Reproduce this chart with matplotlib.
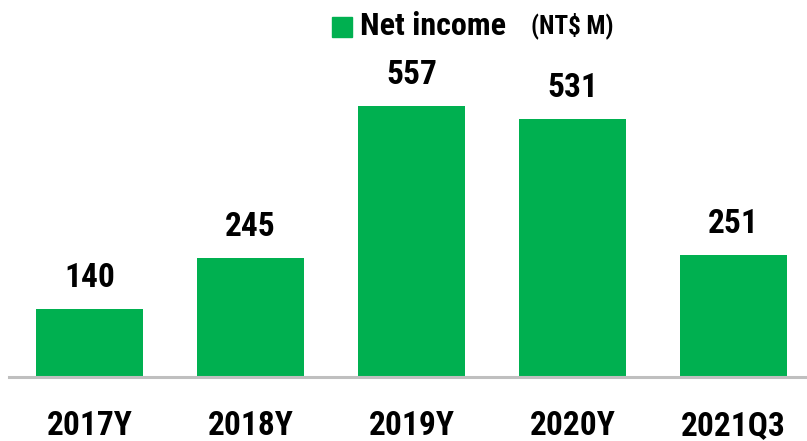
import matplotlib
matplotlib.use("Agg")
import matplotlib.pyplot as plt
from matplotlib.patches import Rectangle

categories = ["2017Y", "2018Y", "2019Y", "2020Y", "2021Q3"]
net_income = [140, 245, 557, 531, 251]
legend_label = "Net income"
unit_label = "(NT$ M)"

FONT = ["Liberation Sans Narrow", "Roboto Condensed", "Open Sans Condensed", "Liberation Sans", "DejaVu Sans"]
GREEN = "#00B050"

W, H = 807, 441
fig = plt.figure(figsize=(W / 100, H / 100), dpi=100)
ax_left, ax_right = 9, 807
ax_bottom_px = 377
ax = fig.add_axes([ax_left / W, (H - ax_bottom_px) / H, (ax_right - ax_left) / W, ax_bottom_px / H])

x = list(range(len(categories)))
ax.bar(x, net_income, width=0.665, color=GREEN, zorder=2)
ax.set_xlim(-0.5, -0.5 + (ax_right - ax_left) / 161)
ax.set_ylim(0, ax_bottom_px / 0.486)

for xi, v in zip(x, net_income):
    ax.annotate(str(v), (xi, v), xytext=(0, 11), textcoords="offset points",
                ha="center", va="bottom", fontsize=24, fontweight="bold",
                family=FONT, color="black")

for s in ["top", "right", "left"]:
    ax.spines[s].set_visible(False)
ax.spines["bottom"].set_color("#BFBFBF")
ax.spines["bottom"].set_linewidth(2.2)
ax.set_yticks([])
ax.set_xticks(x)
ax.set_xticklabels(categories, fontsize=24, fontweight="bold", family=FONT)
ax.tick_params(axis="x", length=0, pad=24)

# legend
fig.patches.append(Rectangle((332 / W, 1 - 37 / H), 20 / W, 20 / H,
                             transform=fig.transFigure, color=GREEN, figure=fig))
fig.text(360 / W, 1 - 26 / H, legend_label, fontsize=23, fontweight="bold",
         family=FONT, va="center", ha="left")
fig.text(531 / W, 1 - 26 / H, unit_label, fontsize=18, fontweight="bold",
         family=FONT, va="center", ha="left")

fig.savefig("out.png", dpi=100)
